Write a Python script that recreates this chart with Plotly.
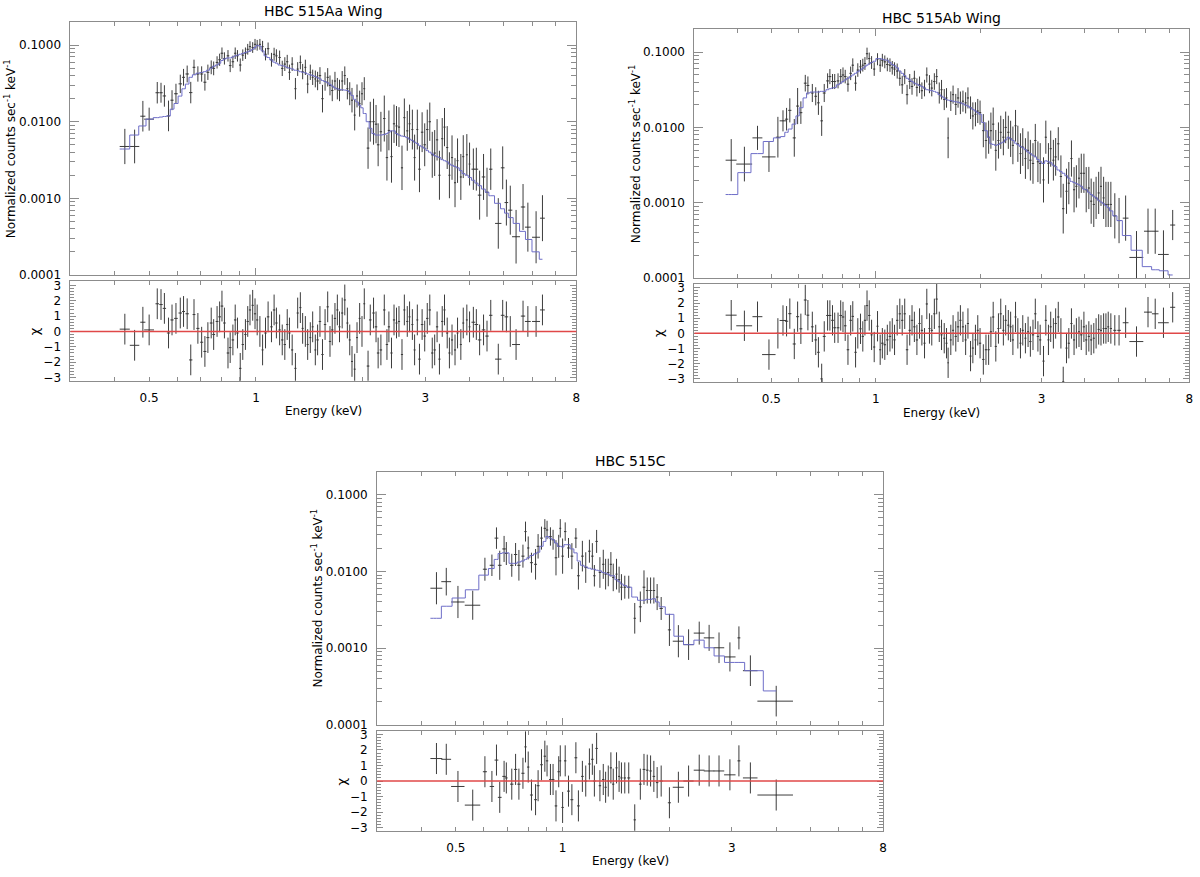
import numpy as np
import plotly.graph_objects as go

# ---------------- Panel A : HBC 515Aa Wing ----------------
a_energy = [0.427, 0.455, 0.48, 0.5, 0.527, 0.54, 0.552, 0.567, 0.58, 0.595,
            0.612, 0.625, 0.64, 0.655, 0.669, 0.686, 0.703, 0.718, 0.732, 0.748,
            0.76, 0.777, 0.79, 0.802, 0.815, 0.834, 0.846, 0.861, 0.874, 0.887,
            0.903, 0.918, 0.934, 0.948, 0.962, 0.979, 0.994, 1.008, 1.026, 1.044,
            1.064, 1.082, 1.106, 1.125, 1.142, 1.166, 1.186, 1.206, 1.225, 1.243,
            1.265, 1.292, 1.311, 1.334, 1.354, 1.378, 1.399, 1.423, 1.445, 1.47,
            1.492, 1.515, 1.54, 1.566, 1.593, 1.617, 1.641, 1.67, 1.696, 1.72,
            1.75, 1.78, 1.81, 1.838, 1.865, 1.898, 1.927, 1.96, 1.99, 2.02,
            2.07, 2.1, 2.145, 2.18, 2.21, 2.25, 2.3, 2.34, 2.37, 2.41,
            2.45, 2.49, 2.53, 2.58, 2.62, 2.67, 2.71, 2.76, 2.8, 2.85,
            2.89, 2.94, 2.99, 3.04, 3.09, 3.14, 3.19, 3.24, 3.29, 3.35,
            3.4, 3.46, 3.51, 3.57, 3.64, 3.7, 3.78, 3.84, 3.93, 4.0,
            4.1, 4.18, 4.27, 4.38, 4.48, 4.59, 4.82, 4.96, 5.08, 5.21,
            5.41, 5.66, 5.84, 6.16, 6.42]
a_halfwidth = [0.014, 0.014, 0.008, 0.016, 0.006, 0.006, 0.006, 0.006, 0.006, 0.007,
               0.007, 0.006, 0.007, 0.007, 0.006, 0.007, 0.007, 0.007, 0.007, 0.007,
               0.007, 0.007, 0.007, 0.007, 0.007, 0.007, 0.007, 0.007, 0.007, 0.007,
               0.007, 0.007, 0.007, 0.007, 0.007, 0.007, 0.007, 0.007, 0.007, 0.007,
               0.009, 0.009, 0.009, 0.009, 0.009, 0.009, 0.009, 0.009, 0.009, 0.009,
               0.009, 0.009, 0.009, 0.009, 0.009, 0.009, 0.009, 0.009, 0.009, 0.009,
               0.012, 0.012, 0.012, 0.012, 0.012, 0.012, 0.012, 0.012, 0.012, 0.012,
               0.012, 0.012, 0.012, 0.012, 0.012, 0.012, 0.012, 0.012, 0.012, 0.012,
               0.018, 0.018, 0.018, 0.018, 0.018, 0.018, 0.018, 0.018, 0.018, 0.018,
               0.018, 0.018, 0.018, 0.018, 0.018, 0.018, 0.018, 0.018, 0.018, 0.018,
               0.024, 0.024, 0.024, 0.024, 0.024, 0.024, 0.024, 0.024, 0.024, 0.024,
               0.024, 0.024, 0.024, 0.024, 0.024, 0.024, 0.024, 0.024, 0.024, 0.024,
               0.05, 0.05, 0.05, 0.05, 0.05, 0.05, 0.1, 0.06, 0.06, 0.07,
               0.14, 0.08, 0.11, 0.16, 0.1]
a_counts = [0.00475, 0.00475, 0.0118, 0.0108, 0.0239, 0.0239, 0.0217, 0.0119, 0.0191, 0.0232,
            0.0312, 0.038, 0.042, 0.024, 0.0513, 0.042, 0.042, 0.0328, 0.0442, 0.0513,
            0.0497, 0.0595, 0.0644, 0.0784, 0.067, 0.0725, 0.054, 0.0607, 0.0784, 0.0725,
            0.055, 0.074, 0.0784, 0.0883, 0.0956, 0.093, 0.1025, 0.0995, 0.1025, 0.0956,
            0.076, 0.09, 0.0644, 0.076, 0.0725, 0.069, 0.0497, 0.0565, 0.0607, 0.0442,
            0.0565, 0.027, 0.0487, 0.0595, 0.0451, 0.0513, 0.031, 0.0442, 0.038, 0.0362,
            0.034, 0.04, 0.02, 0.0335, 0.038, 0.0298, 0.0256, 0.034, 0.027, 0.0256,
            0.034, 0.04, 0.027, 0.0232, 0.0191, 0.0122, 0.0217, 0.0172, 0.0232, 0.027,
            0.00452, 0.01, 0.01, 0.0093, 0.005, 0.0074, 0.011, 0.0034, 0.0077, 0.0035,
            0.0094, 0.0088, 0.0085, 0.0025, 0.0113, 0.0076, 0.0094, 0.0079, 0.0034, 0.0079,
            0.0024, 0.0073, 0.005, 0.0079, 0.01, 0.0037, 0.0039, 0.0058, 0.002, 0.006,
            0.0085, 0.0046, 0.002, 0.0034, 0.0016, 0.0031, 0.0019, 0.0035, 0.0037, 0.0028,
            0.0024, 0.0024, 0.0011, 0.0019, 0.0012, 0.0024, 0.00047, 0.0025, 0.00088, 0.0007,
            0.000315, 0.00077, 0.00042, 0.00031, 0.00055]
a_logerr = [0.23, 0.22, 0.2, 0.15, 0.14, 0.13, 0.14, 0.2, 0.13, 0.13,
            0.12, 0.11, 0.11, 0.14, 0.1, 0.1, 0.1, 0.11, 0.1, 0.09,
            0.09, 0.08, 0.08, 0.075, 0.08, 0.075, 0.085, 0.08, 0.075, 0.075,
            0.085, 0.075, 0.075, 0.07, 0.07, 0.07, 0.07, 0.07, 0.07, 0.075,
            0.08, 0.08, 0.09, 0.085, 0.085, 0.09, 0.1, 0.09, 0.09, 0.1,
            0.09, 0.14, 0.09, 0.09, 0.1, 0.1, 0.12, 0.1, 0.1, 0.11,
            0.12, 0.11, 0.18, 0.12, 0.12, 0.13, 0.14, 0.12, 0.14, 0.14,
            0.13, 0.12, 0.14, 0.15, 0.16, 0.2, 0.15, 0.17, 0.15, 0.15,
            0.27, 0.26, 0.3, 0.25, 0.28, 0.26, 0.3, 0.3, 0.26, 0.34,
            0.25, 0.26, 0.26, 0.29, 0.25, 0.26, 0.25, 0.26, 0.3, 0.26,
            0.3, 0.26, 0.28, 0.26, 0.25, 0.3, 0.3, 0.27, 0.32, 0.27,
            0.25, 0.28, 0.3, 0.29, 0.32, 0.29, 0.3, 0.28, 0.27, 0.28,
            0.27, 0.28, 0.32, 0.3, 0.32, 0.27, 0.33, 0.28, 0.3, 0.32,
            0.35, 0.3, 0.32, 0.34, 0.3]
a_model = [0.0044, 0.0067, 0.0088, 0.0108, 0.0113, 0.0115, 0.0117, 0.0119, 0.0146, 0.0173,
           0.0216, 0.0269, 0.031, 0.038, 0.041, 0.043, 0.044, 0.045, 0.047, 0.05,
           0.053, 0.055, 0.058, 0.063, 0.066, 0.068, 0.068, 0.07, 0.0725, 0.074,
           0.076, 0.078, 0.08, 0.082, 0.084, 0.088, 0.093, 0.099, 0.097, 0.084,
           0.0725, 0.069, 0.064, 0.06, 0.058, 0.055, 0.054, 0.053, 0.051, 0.05,
           0.0488, 0.047, 0.0465, 0.045, 0.0442, 0.0435, 0.042, 0.041, 0.04, 0.039,
           0.0376, 0.0363, 0.0345, 0.0334, 0.0322, 0.0306, 0.0292, 0.0277, 0.0269, 0.0264,
           0.0261, 0.0259, 0.0256, 0.0244, 0.0221, 0.0196, 0.0181, 0.0164, 0.0152, 0.0128,
           0.01, 0.0082, 0.007, 0.0067, 0.0067, 0.0067, 0.0068, 0.007, 0.0073, 0.0076,
           0.0076, 0.007, 0.0067, 0.0065, 0.0064, 0.0062, 0.0059, 0.0057, 0.0054, 0.0052,
           0.0049, 0.0047, 0.0045, 0.0042, 0.004, 0.0038, 0.0036, 0.0035, 0.0034, 0.0032,
           0.0031, 0.003, 0.0028, 0.0027, 0.0026, 0.0025, 0.0023, 0.0021, 0.002, 0.00187,
           0.00172, 0.00158, 0.00146, 0.00132, 0.0012, 0.00108, 0.00086, 0.00073, 0.00064, 0.00056,
           0.00047, 0.00037, 0.00029, 0.0002, 0.00016]
a_chi = [0.15, -0.9, 0.6, 0.1, 1.8, 1.75, 1.5, -0.1, 0.75, 0.85,
         1.2, 1.3, 1.15, -1.85, 1.1, 0.2, -0.7, -1.3, -0.4, 0.55,
         -0.2, 0.65, 0.95, 1.65, 0.55, -1.4, -1.05, -0.55, 0.75, -0.1,
         -2.4, -0.85, -0.2, 0.65, 1.4, 1.7, 1.15, 0.75, 0.0, -1.2,
         -0.1, 0.95, 0.3, 1.4, 0.55, 0.1, -0.55, -0.85, 0.45, -0.1,
         -1.2, -2.4, 1.2, 1.55, 0.2, 0.0, -0.85, -0.4, 0.3, -1.2,
         -0.55, 0.65, -1.5, 0.45, 1.6, -0.65, 0.1, 0.85, 1.4, 0.3,
         1.2, 2.05, 0.55, -0.55, -1.95, -2.45, -0.4, 0.85, 0.0, 1.8,
         -2.25, 0.75, 1.2, 0.3, -1.4, -1.2, 1.4, -0.85, 0.3, -1.4,
         0.75, 0.55, 0.65, -1.5, 1.4, 0.65, 0.95, 0.45, -1.2, 0.75,
         -1.8, 0.45, -0.3, 0.85, 1.4, -1.4, -1.2, 0.3, -1.8, 0.65,
         1.4, -0.1, -1.4, -0.55, -1.2, -0.1, -0.85, 0.55, 0.75, 0.3,
         0.6, 0.45, -0.55, 0.1, -0.3, 1.05, -1.8, 1.05, 0.95, 0.0,
         -0.85, 1.0, 0.65, 0.65, 1.4]

# ---------------- Panel B : HBC 515Ab Wing ----------------
b_energy = [0.383, 0.418, 0.456, 0.492, 0.522, 0.54, 0.553, 0.565, 0.582, 0.595,
            0.608, 0.626, 0.637, 0.656, 0.671, 0.683, 0.698, 0.71, 0.726, 0.737,
            0.75, 0.761, 0.778, 0.792, 0.804, 0.816, 0.831, 0.846, 0.858, 0.874,
            0.887, 0.903, 0.917, 0.93, 0.943, 0.957, 0.972, 0.989, 1.011, 1.029,
            1.044, 1.061, 1.079, 1.098, 1.115, 1.132, 1.152, 1.172, 1.191, 1.211,
            1.23, 1.252, 1.271, 1.291, 1.313, 1.336, 1.357, 1.381, 1.402, 1.427,
            1.449, 1.474, 1.497, 1.523, 1.546, 1.574, 1.598, 1.615, 1.644, 1.669,
            1.699, 1.725, 1.752, 1.782, 1.814, 1.842, 1.874, 1.903, 1.936, 1.966,
            1.996, 2.04, 2.076, 2.113, 2.145, 2.178, 2.216, 2.255, 2.29, 2.33,
            2.366, 2.408, 2.445, 2.482, 2.526, 2.565, 2.61, 2.65, 2.697, 2.745,
            2.787, 2.836, 2.88, 2.93, 2.975, 3.041, 3.088, 3.142, 3.19, 3.247,
            3.296, 3.354, 3.413, 3.466, 3.542, 3.597, 3.66, 3.724, 3.782, 3.848,
            3.907, 3.976, 4.037, 4.108, 4.172, 4.245, 4.311, 4.385, 4.453, 4.531,
            4.601, 4.672, 4.754, 4.88, 5.02, 5.244, 5.636, 6.083, 6.381, 6.74,
            7.165]
b_halfwidth = [0.014, 0.022, 0.015, 0.022, 0.007, 0.012, 0.006, 0.006, 0.006, 0.006,
               0.006, 0.006, 0.006, 0.006, 0.006, 0.006, 0.006, 0.007, 0.007, 0.007,
               0.007, 0.007, 0.007, 0.007, 0.007, 0.007, 0.007, 0.007, 0.007, 0.007,
               0.007, 0.007, 0.007, 0.007, 0.007, 0.007, 0.007, 0.007, 0.007, 0.007,
               0.009, 0.009, 0.009, 0.009, 0.009, 0.009, 0.009, 0.009, 0.009, 0.009,
               0.01, 0.01, 0.01, 0.01, 0.01, 0.01, 0.01, 0.01, 0.01, 0.01,
               0.011, 0.011, 0.011, 0.011, 0.011, 0.011, 0.011, 0.006, 0.011, 0.011,
               0.013, 0.013, 0.013, 0.013, 0.013, 0.013, 0.013, 0.013, 0.013, 0.013,
               0.016, 0.016, 0.016, 0.016, 0.016, 0.016, 0.016, 0.016, 0.016, 0.016,
               0.018, 0.018, 0.018, 0.018, 0.018, 0.018, 0.018, 0.018, 0.018, 0.018,
               0.022, 0.022, 0.022, 0.022, 0.022, 0.022, 0.022, 0.022, 0.022, 0.022,
               0.026, 0.026, 0.026, 0.026, 0.026, 0.026, 0.026, 0.026, 0.026, 0.026,
               0.03, 0.03, 0.03, 0.03, 0.03, 0.03, 0.03, 0.03, 0.03, 0.03,
               0.03, 0.03, 0.035, 0.05, 0.06, 0.1, 0.26, 0.16, 0.14, 0.24,
               0.12]
b_counts = [0.00367, 0.00326, 0.00726, 0.00406, 0.00741, 0.01222, 0.01285, 0.01683, 0.00726, 0.01918,
            0.0157, 0.03863, 0.036, 0.0286, 0.02588, 0.02118, 0.01222, 0.0286, 0.04143, 0.04721,
            0.04062, 0.04062, 0.04143, 0.04721, 0.04962, 0.04721, 0.0375, 0.05216, 0.06698, 0.03863,
            0.05767, 0.06372, 0.06698, 0.07044, 0.09513, 0.08186, 0.07258, 0.05941, 0.08023, 0.06698,
            0.07786, 0.07406, 0.06837, 0.06698, 0.06183, 0.05941, 0.05596, 0.04489, 0.03674, 0.04721,
            0.02722, 0.04062, 0.03495, 0.04489, 0.03392, 0.03674, 0.03069, 0.03325, 0.04962, 0.0375,
            0.03325, 0.04062, 0.04721, 0.0286, 0.03162, 0.02342, 0.02461, 0.00726, 0.02228, 0.02722,
            0.02015, 0.02461, 0.02118, 0.02228, 0.02118, 0.02461, 0.01823, 0.0142, 0.01492, 0.0165,
            0.0157, 0.00905, 0.0067, 0.00741, 0.00905, 0.01105, 0.00496, 0.0067, 0.00861, 0.00741,
            0.01, 0.00861, 0.00705, 0.00577, 0.01051, 0.00606, 0.00449, 0.00548, 0.00386, 0.00496,
            0.00367, 0.00332, 0.0067, 0.0035, 0.00332, 0.00201, 0.00741, 0.00332, 0.00522, 0.00367,
            0.00406, 0.00606, 0.00223, 0.000835, 0.00142, 0.00182, 0.00386, 0.00149, 0.00165, 0.00212,
            0.00246, 0.00246, 0.00149, 0.00157, 0.00105, 0.00095, 0.00116, 0.00135, 0.00165, 0.00116,
            0.00095, 0.00095, 0.00095, 0.00067, 0.00058, 0.000625, 0.000188, 0.000419, 0.000419, 0.000206,
            0.000506]
b_logerr = [0.28, 0.23, 0.16, 0.2, 0.27, 0.14, 0.15, 0.16, 0.25, 0.24,
            0.15, 0.11, 0.12, 0.12, 0.12, 0.16, 0.2, 0.12, 0.1, 0.1,
            0.1, 0.1, 0.1, 0.1, 0.1, 0.09, 0.1, 0.09, 0.09, 0.1,
            0.09, 0.09, 0.085, 0.085, 0.08, 0.08, 0.085, 0.09, 0.08, 0.09,
            0.085, 0.085, 0.09, 0.09, 0.09, 0.09, 0.1, 0.1, 0.12, 0.1,
            0.13, 0.1, 0.11, 0.1, 0.12, 0.11, 0.11, 0.11, 0.1, 0.12,
            0.11, 0.11, 0.1, 0.14, 0.13, 0.14, 0.13, 0.27, 0.13, 0.12,
            0.14, 0.13, 0.15, 0.14, 0.14, 0.14, 0.15, 0.18, 0.16, 0.16,
            0.16, 0.22, 0.24, 0.22, 0.24, 0.22, 0.27, 0.24, 0.22, 0.24,
            0.21, 0.22, 0.24, 0.25, 0.21, 0.24, 0.27, 0.25, 0.27, 0.25,
            0.27, 0.27, 0.22, 0.27, 0.27, 0.3, 0.22, 0.27, 0.24, 0.27,
            0.25, 0.22, 0.28, 0.33, 0.3, 0.28, 0.24, 0.3, 0.28, 0.27,
            0.26, 0.26, 0.3, 0.28, 0.3, 0.3, 0.28, 0.28, 0.26, 0.28,
            0.3, 0.3, 0.3, 0.3, 0.3, 0.3, 0.35, 0.3, 0.3, 0.32,
            0.2]
b_model = [0.001285, 0.00251, 0.00449, 0.0065, 0.00726, 0.00755, 0.00861, 0.00951, 0.01105, 0.0142,
           0.01823, 0.02461, 0.0286, 0.02948, 0.02948, 0.02948, 0.03007, 0.03007, 0.03162, 0.03262,
           0.03325, 0.03392, 0.03674, 0.03863, 0.04062, 0.04271, 0.04489, 0.04721, 0.04962, 0.05216,
           0.05483, 0.05767, 0.06062, 0.06372, 0.06698, 0.06975, 0.07258, 0.0755, 0.08186, 0.08186,
           0.08023, 0.07865, 0.07786, 0.07258, 0.06837, 0.06568, 0.06183, 0.05596, 0.05216, 0.04863,
           0.04489, 0.04271, 0.04062, 0.03863, 0.0375, 0.036, 0.03495, 0.03325, 0.03162, 0.0313,
           0.03069, 0.03007, 0.02918, 0.02722, 0.02588, 0.02461, 0.02342, 0.02296, 0.02273, 0.02228,
           0.02184, 0.02162, 0.02118, 0.02056, 0.01976, 0.01918, 0.01823, 0.01734, 0.0165, 0.0157,
           0.01492, 0.01162, 0.00905, 0.00741, 0.00606, 0.00594, 0.00577, 0.00594, 0.00618, 0.00637,
           0.00684, 0.00741, 0.00705, 0.0067, 0.00618, 0.00589, 0.0056, 0.00537, 0.00506, 0.00472,
           0.00449, 0.00427, 0.00406, 0.00375, 0.0035, 0.00332, 0.0036, 0.0035, 0.00339, 0.00316,
           0.00301, 0.00272, 0.00259, 0.00246, 0.00228, 0.00212, 0.00192, 0.00186, 0.00179, 0.00173,
           0.00165, 0.00152, 0.00149, 0.00138, 0.001285, 0.00122, 0.00116, 0.00108, 0.00102, 0.00097,
           0.00092, 0.00086, 0.00078, 0.00067, 0.00058, 0.000367, 0.000234, 0.000142, 0.000129, 0.000125,
           0.00011]
b_chi = [1.2, 0.5, 1.1, -1.4, 0.0, 0.85, 0.8, 1.3, -0.7, 1.1,
         0.3, 2.2, 1.2, 0.43, -0.43, -1.25, -3.0, -0.2, 1.18, 1.18,
         0.86, 0.37, 0.37, 1.18, 1.08, 0.5, -1.08, 0.86, 1.12, -1.25,
         0.0, 0.3, -0.2, 0.86, 1.83, 1.18, -0.1, -0.9, 0.47, -1.08,
         -0.65, -0.75, -0.43, -0.2, 0.0, -0.43, 0.86, 1.29, 0.86, 1.29,
         -1.08, 0.2, 0.86, 0.43, -0.43, 0.65, 0.2, -0.65, 1.94, 0.32,
         0.2, 1.29, 2.26, 0.43, -0.1, -0.32, -0.65, -1.94, -0.43, 0.2,
         -0.2, 0.43, 0.86, 0.43, -0.43, 0.65, -1.5, -0.97, -0.43, 0.2,
         -0.65, -1.72, -1.08, -1.08, 0.1, 1.08, -0.86, 0.32, 1.29, 0.2,
         0.86, 0.54, 0.43, -0.43, 1.08, 0.0, -0.65, 0.2, -0.32, 0.1,
         -0.54, -0.1, 1.29, -0.2, -0.43, -1.83, 0.86, -0.43, 0.43, 0.0,
         0.65, 1.08, 0.0, -3.2, -0.97, -0.65, 0.65, -0.43, 0.0, 0.1,
         -0.1, 0.43, -0.43, -0.2, -0.43, -0.32, 0.0, 0.26, 0.2, 0.32,
         0.32, 0.43, 0.32, 0.2, 0.2, 0.7, -0.54, 1.4, 1.29, 0.7,
         1.72]

# ---------------- Panel C : HBC 515C ----------------
c_energy = [0.441, 0.47, 0.507, 0.558, 0.604, 0.632, 0.651, 0.665, 0.684, 0.694,
            0.719, 0.737, 0.753, 0.773, 0.786, 0.8, 0.817, 0.839, 0.853, 0.872,
            0.891, 0.904, 0.924, 0.94, 0.958, 0.975, 0.985, 1.0, 1.017, 1.039,
            1.062, 1.09, 1.108, 1.137, 1.162, 1.19, 1.213, 1.229, 1.247, 1.274,
            1.302, 1.322, 1.345, 1.368, 1.389, 1.419, 1.443, 1.465, 1.497, 1.536,
            1.597, 1.656, 1.696, 1.732, 1.77, 1.808, 1.847, 1.896, 2.0, 2.12,
            2.265, 2.427, 2.588, 2.76, 2.962, 3.14, 3.383, 4.0]
c_halfwidth = [0.017, 0.015, 0.022, 0.028, 0.008, 0.009, 0.008, 0.008, 0.008, 0.006,
               0.008, 0.008, 0.008, 0.008, 0.006, 0.006, 0.008, 0.008, 0.008, 0.008,
               0.007, 0.007, 0.008, 0.008, 0.008, 0.008, 0.006, 0.008, 0.008, 0.01,
               0.01, 0.01, 0.01, 0.01, 0.01, 0.01, 0.01, 0.01, 0.01, 0.01,
               0.01, 0.01, 0.01, 0.01, 0.01, 0.01, 0.01, 0.012, 0.012, 0.015,
               0.012, 0.015, 0.015, 0.015, 0.015, 0.015, 0.015, 0.02, 0.02, 0.076,
               0.075, 0.085, 0.088, 0.095, 0.11, 0.03, 0.16, 0.46]
c_counts = [0.00605, 0.00737, 0.004, 0.00363, 0.01071, 0.01206, 0.02729, 0.01206, 0.01972, 0.01718,
            0.01206, 0.01668, 0.01206, 0.01588, 0.03322, 0.02031, 0.01304, 0.01242, 0.02134, 0.02729,
            0.03664, 0.03489, 0.02866, 0.02598, 0.01512, 0.02134, 0.03664, 0.01588, 0.03322, 0.02031,
            0.01588, 0.02729, 0.0088, 0.01588, 0.01126, 0.01841, 0.01588, 0.0088, 0.02472, 0.00971,
            0.01242, 0.00924, 0.00971, 0.01242, 0.00838, 0.00924, 0.00782, 0.00624, 0.00624, 0.00624,
            0.00245, 0.00346, 0.00624, 0.00565, 0.00565, 0.00565, 0.00464, 0.00329, 0.00173, 0.00123,
            0.00111, 0.00157, 0.00136, 0.00101, 0.000767, 0.00136, 0.000507, 0.000203]
c_logerr = [0.21, 0.18, 0.21, 0.19, 0.15, 0.14, 0.14, 0.19, 0.17, 0.15,
            0.15, 0.15, 0.2, 0.15, 0.13, 0.15, 0.13, 0.2, 0.16, 0.15,
            0.12, 0.12, 0.12, 0.13, 0.23, 0.15, 0.12, 0.23, 0.12, 0.13,
            0.17, 0.13, 0.18, 0.2, 0.2, 0.15, 0.17, 0.14, 0.15, 0.2,
            0.19, 0.2, 0.18, 0.16, 0.18, 0.2, 0.17, 0.17, 0.15, 0.15,
            0.2, 0.2, 0.22, 0.17, 0.17, 0.17, 0.17, 0.15, 0.21, 0.21,
            0.2, 0.15, 0.17, 0.2, 0.19, 0.15, 0.2, 0.2]
c_model = [0.00245, 0.00352, 0.00451, 0.00577, 0.00897, 0.01093, 0.01439, 0.01718, 0.01752, 0.01752,
           0.01279, 0.01279, 0.0133, 0.0137, 0.01439, 0.01512, 0.0162, 0.01702, 0.01787, 0.02134,
           0.02472, 0.02866, 0.02729, 0.02598, 0.02353, 0.02134, 0.02134, 0.02091, 0.02241, 0.02241,
           0.01972, 0.01752, 0.0137, 0.01206, 0.01148, 0.01104, 0.01071, 0.01071, 0.0104, 0.0102,
           0.00971, 0.00952, 0.00924, 0.0088, 0.0088, 0.00782, 0.00737, 0.00688, 0.00655, 0.00624,
           0.00464, 0.00421, 0.00421, 0.00433, 0.00433, 0.00442, 0.004, 0.00346, 0.00276, 0.00143,
           0.00111, 0.00127, 0.00101, 0.00079, 0.00065, 0.00065, 0.000507, 0.000276]
c_chi = [1.45, 1.4, -0.35, -1.55, 0.6, -0.35, 1.35, -1.05, 0.3, 0.2,
         -0.2, 0.75, -0.2, 0.5, 2.2, 0.9, -0.9, -1.2, -0.3, 1.05,
         1.6, 1.3, 0.1, 0.1, -1.6, 0.6, 1.3, -1.7, 1.3, -0.65,
         -1.2, 1.5, -1.6, 0.3, 0.0, 1.1, 1.4, 0.0, 2.1, -0.3,
         0.1, -0.4, 0.0, 0.85, -0.2, 0.85, 0.3, 0.2, 0.2, 0.2,
         -2.5, -0.2, 0.75, 0.7, 0.65, 0.3, -0.1, 0.0, -1.4, -0.4,
         0.0, 0.7, 0.65, 0.65, 0.4, 1.3, 0.2, -0.9]

titles = ["HBC 515Aa Wing", "HBC 515Ab Wing", "HBC 515C"]
title_y = [0.9905, 0.9829, 0.4720]
major_x = [0.5, 1, 3, 8]
major_y = [0.0001, 0.001, 0.01, 0.1]
major_y_text = ["0.0001", "0.0010", "0.0100", "0.1000"]
chi_ticks = [-3, -2, -1, 0, 1, 2, 3]
chi_text = ["\u22123", "\u22122", "\u22121", "0", "1", "2", "3"]

FONT = "DejaVu Sans"
AX = "#8c8c8c"
DK = "#3c3c3c"
BLUE = "#6e6ec8"
RED = "#e04848"

# layout geometry (paper fractions): x-domain, spectrum y-domain, residual y-domain
geom = [
    dict(x=[0.0589, 0.4819], ys=[0.6864, 0.978], yr=[0.5644, 0.6788]),
    dict(x=[0.5806, 0.9944], ys=[0.6827, 0.9696], yr=[0.5630, 0.6758]),
    dict(x=[0.3153, 0.7383], ys=[0.1676, 0.4592], yr=[0.0453, 0.1608]),
]

panels = [
    (a_energy, a_halfwidth, a_counts, a_logerr, a_model, a_chi),
    (b_energy, b_halfwidth, b_counts, b_logerr, b_model, b_chi),
    (c_energy, c_halfwidth, c_counts, c_logerr, c_model, c_chi),
]

fig = go.Figure()
layout = {}
annotations = []
shapes = []

for i, (E, dE, cnt, dlog, mod, chi) in enumerate(panels):
    E = np.array(E); dE = np.array(dE); cnt = np.array(cnt)
    dlog = np.array(dlog); mod = np.array(mod); chi = np.array(chi)
    nx_s, nx_r = 2 * i + 1, 2 * i + 2
    xs = "x" if nx_s == 1 else f"x{nx_s}"
    ys = "y" if nx_s == 1 else f"y{nx_s}"
    xr, yr = f"x{nx_r}", f"y{nx_r}"
    up = cnt * (10 ** dlog - 1)
    dn = cnt * (1 - 10 ** (-dlog))

    fig.add_trace(go.Scatter(
        x=E, y=cnt, mode="markers", marker=dict(size=1, color=DK),
        error_x=dict(type="data", array=dE, thickness=1, width=0, color=DK),
        error_y=dict(type="data", symmetric=False, array=up, arrayminus=dn,
                     thickness=1, width=0, color=DK),
        xaxis=xs, yaxis=ys, showlegend=False, hoverinfo="skip"))
    mx = np.concatenate([[E[0] - dE[0]], E])
    my = np.concatenate([[mod[0]], mod])
    fig.add_trace(go.Scatter(
        x=mx, y=my, mode="lines", line=dict(shape="hvh", color=BLUE, width=1),
        xaxis=xs, yaxis=ys, showlegend=False, hoverinfo="skip"))
    fig.add_trace(go.Scatter(
        x=E, y=chi, mode="markers", marker=dict(size=1, color=DK),
        error_x=dict(type="data", array=dE, thickness=1, width=0, color=DK),
        error_y=dict(type="data", array=np.ones(len(chi)), thickness=1, width=0, color=DK),
        xaxis=xr, yaxis=yr, showlegend=False, hoverinfo="skip"))
    # zero reference line of the residual panel, on top of the bars
    shapes.append(dict(type="line", xref=f"{xr} domain", yref=yr, x0=0, x1=1, y0=0, y1=0,
                       line=dict(color=RED, width=1.5), layer="above"))

    g = geom[i]
    common_x = dict(type="log", range=[np.log10(0.3), np.log10(8)], domain=g["x"],
                    showline=True, linecolor=AX, linewidth=1, mirror="allticks",
                    ticks="inside", tickcolor=AX, tickwidth=1, showgrid=False, zeroline=False,
                    minor=dict(dtick="D1", ticks="inside", ticklen=4, tickcolor=AX, showgrid=False),
                    tickfont=dict(family=FONT, size=12, color="#000"))
    layout["xaxis" if nx_s == 1 else f"xaxis{nx_s}"] = dict(
        common_x, anchor=ys, tickvals=[1], ticklen=7, showticklabels=False)
    layout[f"xaxis{nx_r}"] = dict(
        common_x, anchor=yr, tickvals=major_x, ticktext=[str(v) for v in major_x],
        ticklen=4, showticklabels=True, ticklabelstandoff=6)
    layout["yaxis" if nx_s == 1 else f"yaxis{nx_s}"] = dict(
        type="log", range=[-4, np.log10(0.2)], domain=g["ys"], anchor=xs,
        showline=True, linecolor=AX, linewidth=1, mirror="allticks",
        ticks="inside", tickcolor=AX, ticklen=9, tickvals=major_y, ticktext=major_y_text,
        minor=dict(dtick="D1", ticks="inside", ticklen=5, tickcolor=AX, showgrid=False),
        showgrid=False, zeroline=False, ticklabelstandoff=6,
        tickfont=dict(family=FONT, size=12, color="#000"))
    layout[f"yaxis{nx_r}"] = dict(
        range=[-3.2, 3.25], domain=g["yr"], anchor=xr,
        showline=True, linecolor=AX, linewidth=1, mirror="allticks",
        ticks="inside", tickcolor=AX, ticklen=6, tickvals=chi_ticks, ticktext=chi_text,
        minor=dict(dtick=0.2, tick0=0, ticks="inside", ticklen=4, tickcolor=AX, showgrid=False),
        showgrid=False, zeroline=False, ticklabelstandoff=6,
        tickfont=dict(family=FONT, size=12, color="#000"))

    xc = (g["x"][0] + g["x"][1]) / 2
    annotations.append(dict(text=titles[i], xref="paper", yref="paper", x=xc,
                            y=title_y[i], xanchor="center", yanchor="middle",
                            showarrow=False, font=dict(family=FONT, size=14, color="#000")))
    annotations.append(dict(text="Normalized counts sec<sup>-1</sup> keV<sup>-1</sup>",
                            xref="paper", yref="paper", x=g["x"][0] - 0.05,
                            y=(g["ys"][0] + g["ys"][1]) / 2, xanchor="center", yanchor="middle",
                            textangle=-90, showarrow=False,
                            font=dict(family=FONT, size=12, color="#000")))
    annotations.append(dict(text="\u03c7", xref="paper", yref="paper", x=g["x"][0] - 0.0298,
                            y=g["yr"][0] + (g["yr"][1] - g["yr"][0]) * 3.2 / 6.45,
                            xanchor="center", yanchor="middle", textangle=-90, showarrow=False,
                            font=dict(family=FONT, size=13, color="#000")))
    annotations.append(dict(text="Energy (keV)", xref="paper", yref="paper", x=xc,
                            y=g["yr"][0] - 0.0354, xanchor="center", yanchor="middle",
                            showarrow=False, font=dict(family=FONT, size=12, color="#000")))

fig.update_layout(
    width=1200, height=877, margin=dict(l=0, r=0, t=0, b=0),
    paper_bgcolor="white", plot_bgcolor="white",
    font=dict(family=FONT, size=12, color="#000"),
    shapes=shapes, annotations=annotations, showlegend=False, **layout)

fig.write_html("out.html")
